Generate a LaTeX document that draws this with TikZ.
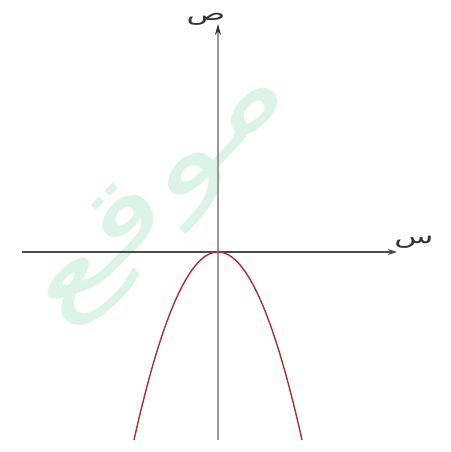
\documentclass[tikz,border=0pt]{standalone}
\usepackage{fontspec}
\newfontfamily\arabicfont[Script=Arabic]{DejaVu Sans}
\TeXXeTstate=1
\usetikzlibrary{arrows.meta}
\definecolor{wm}{HTML}{DCF3EA}
\definecolor{curve}{HTML}{A8303C}
\begin{document}
\begin{tikzpicture}[x=1pt,y=-1pt,
  axisx/.style={draw=black!70,line width=1.6pt,-{Stealth[length=9pt,width=6pt]}},
  axisy/.style={draw=black!40,line width=2.2pt,-{Stealth[length=11pt,width=6pt,color=black!80]}},
  lbl/.style={font=\arabicfont\fontsize{20}{20}\selectfont,text=black!80,inner sep=0pt,xscale=1.6},
  wmark/.style={font=\arabicfont\fontsize{100}{100}\selectfont,text=wm,inner sep=0pt}]
\useasboundingbox (0,0) rectangle (450,452);
\fill[white] (0,0) rectangle (450,452);
\node[wmark,rotate=45,xscale=1.6] (w) at (162,196) {\beginR موقع\endR};
\coordinate (xs) at (22,252);
\coordinate (xe) at (397,252);
\coordinate (ys) at (218,440);
\coordinate (ye) at (218,24);
\draw[axisx] (xs) -- (xe);
\draw[axisy] (ys) -- (ye);
\node[lbl] (ylab) at (206,19) {\beginR ص\endR};
\node[lbl] (xlab) at (414,242) {\beginR س\endR};
\draw[curve,line width=1.4pt,domain=-84:84,samples=80,smooth] plot ({218+\x},{252+188*(\x/84)^2});
\end{tikzpicture}
\end{document}
